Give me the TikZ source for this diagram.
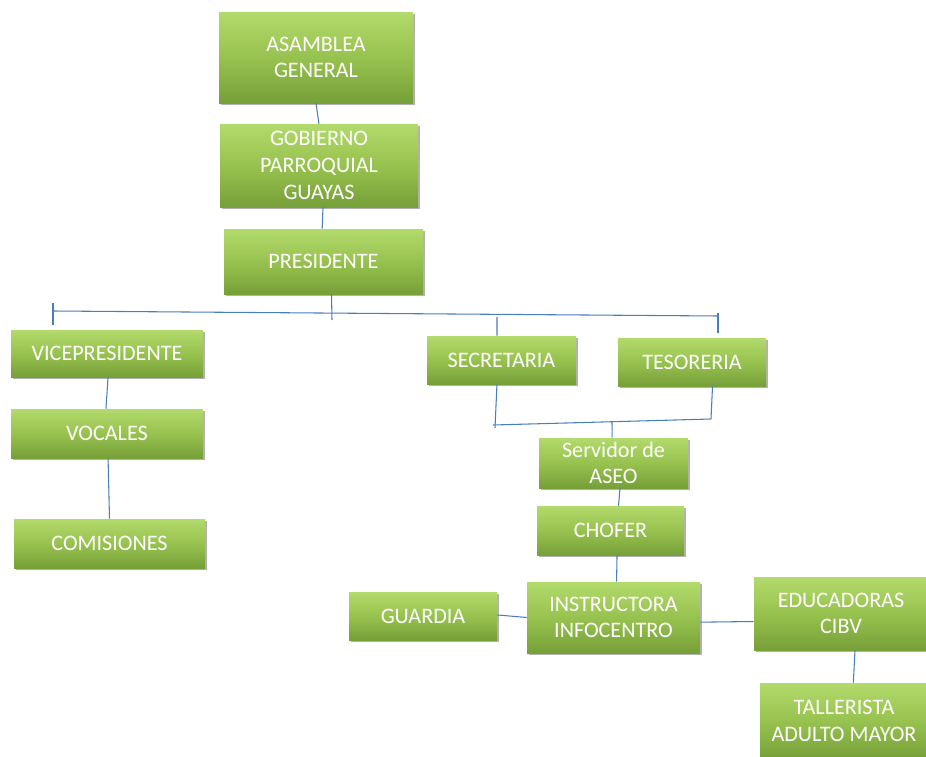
\documentclass[tikz,border=0pt]{standalone}
\usepackage{fontspec}
\setmainfont{Carlito}
\usetikzlibrary{shadows}
\definecolor{lnblue}{HTML}{4A7EBB}
\definecolor{gtop}{HTML}{B2DA6C}
\definecolor{gmid}{HTML}{98C24F}
\definecolor{gbot}{HTML}{76A038}
\tikzset{
  box/.style={rectangle, inner sep=0pt, align=center, text=white,
    font=\fontsize{16.6}{20}\selectfont,
    top color=gtop, bottom color=gbot, middle color=gmid,
    drop shadow={shadow xshift=1.2pt, shadow yshift=-1.6pt, opacity=0.3, fill=black}},
  sz/.style 2 args={minimum width=#1*0.75pt, minimum height=#2*0.75pt},
  ln/.style={draw=lnblue, line width=0.8pt}
}
\begin{document}
\begin{tikzpicture}[x=0.75pt,y=-0.75pt]
\useasboundingbox (0,0) rectangle (926,757);
\clip (0,0) rectangle (926,757);
% boxes
\node[box, sz={194}{91}] (asamblea) at (316,57.5) {ASAMBLEA\\GENERAL};
\node[box, sz={198}{83}] (gobierno) at (319,165.5) {GOBIERNO\\PARROQUIAL\\GUAYAS};
\node[box, sz={199}{65}] (presidente) at (323.5,261.5) {PRESIDENTE};
\node[box, sz={192}{47}] (vice) at (107,353.5) {VICEPRESIDENTE};
\node[box, sz={192}{49}] (vocales) at (107,433.5) {VOCALES};
\node[box, sz={191}{49}] (comisiones) at (109.5,543.5) {COMISIONES};
\node[box, sz={149}{48}] (secretaria) at (501.5,360) {SECRETARIA};
\node[box, sz={148}{48}] (tesoreria) at (692,362) {TESORERIA};
\node[box, sz={149}{50}] (aseo) at (613.5,463) {Servidor de\\ASEO};
\node[box, sz={147}{49}] (chofer) at (610.5,530.5) {CHOFER};
\node[box, sz={148}{48}] (guardia) at (423,616) {GUARDIA};
\node[box, sz={173}{71}] (instructora) at (613.5,617.5) {INSTRUCTORA\\INFOCENTRO};
\node[box, sz={174}{73}] (educadoras) at (841,613.5) {EDUCADORAS\\CIBV};
\node[box, sz={168}{76}] (tallerista) at (844,721) {TALLERISTA\\ADULTO MAYOR};
% coordinates
\coordinate (hl) at (53,311);
\coordinate (hr) at (718,316);
\coordinate (pbot) at (332,320);
\coordinate (vt1) at (53,303);
\coordinate (vt2) at (53,325);
\coordinate (st1) at (497,317);
\coordinate (tt1) at (718,313);
\coordinate (tt2) at (718,333);
\coordinate (bl) at (493,425);
\coordinate (blb) at (495,428);
\coordinate (br) at (711,419);
\coordinate (bc) at (612,422);
% connectors
\draw[ln] (asamblea.south) -- (gobierno.north);
\draw[ln] ([xshift=3pt]gobierno.south) -- ([xshift=-1pt]presidente.north);
\draw[ln] ([xshift=6pt]presidente.south) -- (pbot);
\draw[ln] (hl) -- (hr);
\draw[ln] (vt1) -- (vt2);
\draw[ln] (st1) -- ([xshift=-3.4pt]secretaria.north);
\draw[ln] (tt1) -- (tt2);
\draw[ln] ([xshift=-3.4pt]secretaria.south) -- (blb);
\draw[ln] (bl) -- (br);
\draw[ln] ([xshift=15.4pt]tesoreria.south) -- (br);
\draw[ln] (bc) -- ([xshift=-1pt]aseo.north);
\draw[ln] ([xshift=4.9pt]aseo.south) -- ([xshift=6pt]chofer.north);
\draw[ln] ([xshift=4.9pt]chofer.south) -- ([xshift=2.3pt]instructora.north);
\draw[ln] ([yshift=0.8pt]guardia.east) -- (instructora.west);
\draw[ln] ([yshift=-3.5pt]instructora.east) -- ([yshift=-6pt]educadoras.west);
\draw[ln] ([xshift=10.5pt]educadoras.south) -- ([xshift=7pt]tallerista.north);
\draw[ln] ([xshift=0.8pt]vice.south) -- ([xshift=-0.8pt]vocales.north);
\draw[ln] ([xshift=0.8pt]vocales.south) -- (comisiones.north);
\end{tikzpicture}
\end{document}
